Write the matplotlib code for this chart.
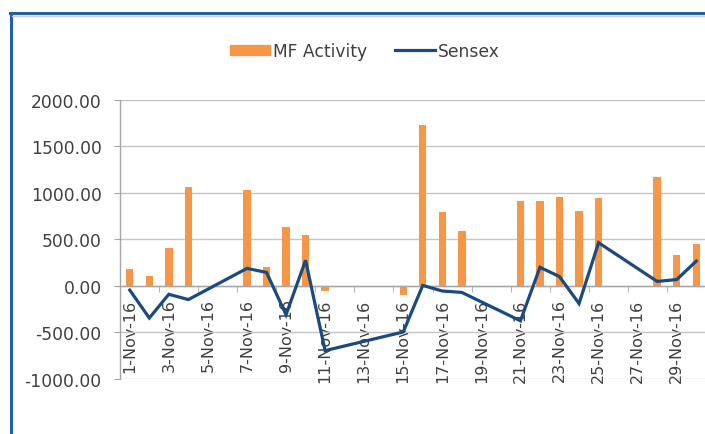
import numpy as np
import pandas as pd
import matplotlib
matplotlib.use("Agg")
import matplotlib.pyplot as plt
from matplotlib.lines import Line2D
from matplotlib.ticker import FixedLocator, NullFormatter

# trading days in Nov 2016
days = [1, 2, 3, 4, 7, 8, 9, 10, 11, 15, 16, 17, 18, 21, 22, 23, 24, 25, 28, 29, 30]
mf_activity = [185, 105, 405, 1065, 1030, 205, 635, 550, -60, -95, 1725, 795,
               590, 915, 915, 950, 800, 940, 1175, 330, 455]
sensex = [-45, -345, -90, -147, 188, 145, -310, 275, -695, -495, 5, -55,
          -70, -375, 200, 100, -190, 464, 48, 68, 266]
label_days = list(range(1, 30, 2))
tick_labels = [f"{d}-Nov-16" for d in label_days]
y_ticks = [-1000, -500, 0, 500, 1000, 1500, 2000]

dates = pd.to_datetime([f"2016-11-{d:02d}" for d in days])
label_dates = pd.to_datetime([f"2016-11-{d:02d}" for d in label_days])
half = pd.Timedelta(hours=12)

bar_color = "#f79646"
line_color = "#1a4a7e"
grid_color = "#c4c4c4"
text_color = "#404040"

fig = plt.figure(figsize=(7.05, 4.35), dpi=100, facecolor="white")
ax = fig.add_axes([120 / 705, 1 - 380 / 435, 586 / 705, 279.3 / 435])

ax.bar(dates, mf_activity, width=0.38, color=bar_color, zorder=2,
       label="MF Activity")
ax.plot(dates, sensex, color=line_color, linewidth=2.3, zorder=3,
        solid_joinstyle="miter", label="Sensex")

ax.set_ylim(-1000, 2000)
ax.set_xlim(dates[0] - half, dates[-1] + half)
ax.set_yticks(y_ticks)
ax.set_yticklabels([f"{v:.2f}" for v in y_ticks])
ax.yaxis.grid(True, color=grid_color, linewidth=1.0, zorder=0)
ax.set_axisbelow(True)

# x axis sits at zero, labels every second day, marks between them
ax.spines["bottom"].set_position(("data", 0))
for s in ["top", "right"]:
    ax.spines[s].set_visible(False)
for s in ["left", "bottom"]:
    ax.spines[s].set_color("#a6a6a6")
    ax.spines[s].set_linewidth(1.0)

ax.set_xticks(label_dates)
ax.set_xticklabels(tick_labels, rotation=90)
minor = [d + pd.Timedelta(hours=36) for d in label_dates[:-1]]
ax.xaxis.set_minor_locator(FixedLocator(matplotlib.dates.date2num(minor)))
ax.xaxis.set_minor_formatter(NullFormatter())
ax.tick_params(axis="x", which="major", length=0, pad=9, labelsize=11.5,
               labelcolor=text_color)
ax.tick_params(axis="x", which="minor", length=4.5, direction="out",
               color="#a6a6a6")
ax.tick_params(axis="y", length=4.3, pad=9, labelsize=12.3,
               labelcolor=text_color, color="#a6a6a6")

handles = [plt.Rectangle((0, 0), 1, 1, color=bar_color),
           Line2D([0], [0], color=line_color, linewidth=2.3)]
fig.legend(handles, ["MF Activity", "Sensex"], loc="center",
           bbox_to_anchor=(365 / 705, 1 - 52 / 435), ncol=2, frameon=False,
           fontsize=12.3, labelcolor=text_color, handlelength=2.35,
           handleheight=0.6, handletextpad=0.2, columnspacing=1.6)

# blue frame (left and top edge visible)
fig.add_artist(Line2D([10.5 / 705, 10.5 / 705], [0, 1 - 14 / 435],
                      color="#1f62a8", linewidth=2.2))
fig.add_artist(Line2D([10 / 705, 1], [1 - 14 / 435, 1 - 14 / 435],
                      color="#1f62a8", linewidth=2.2))
fig.add_artist(Line2D([12 / 705, 1], [1 - 16.5 / 435, 1 - 16.5 / 435],
                      color="#d0d0d0", linewidth=1.0))

fig.savefig("out.png", dpi=100, facecolor="white")
